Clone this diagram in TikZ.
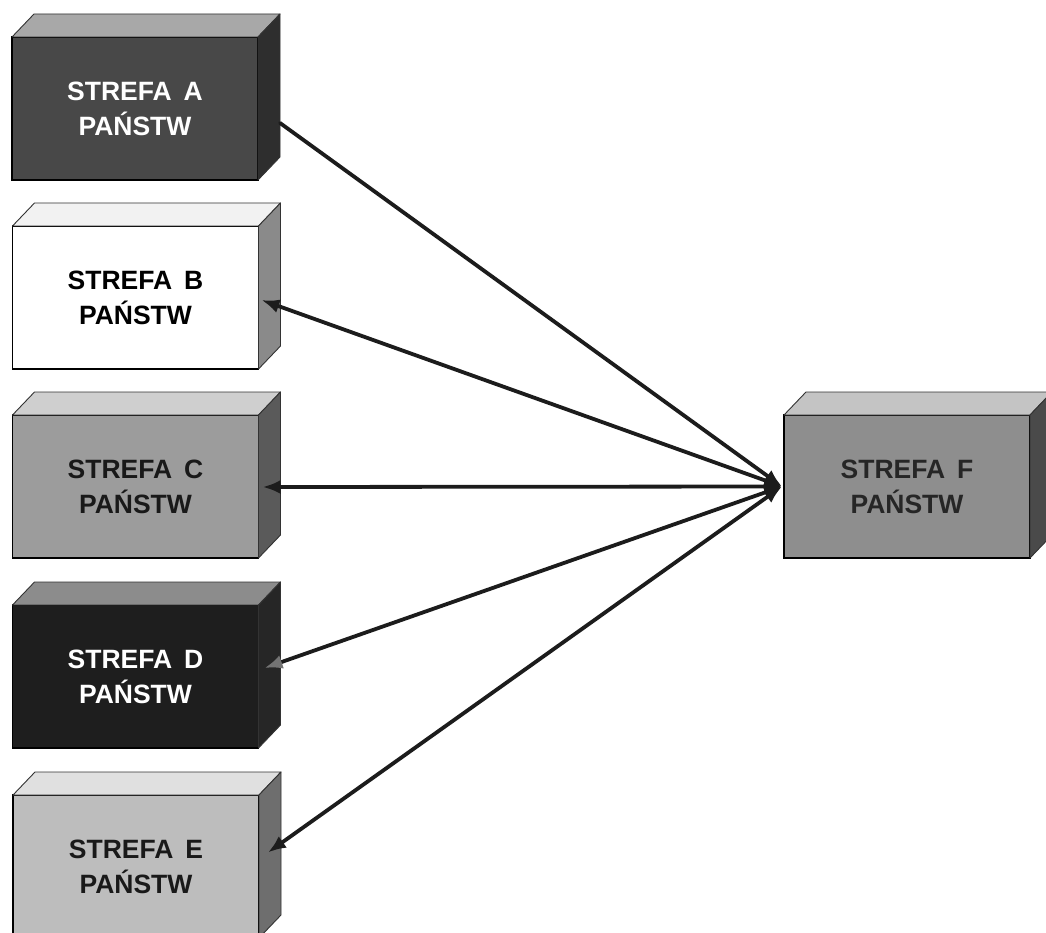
\documentclass[tikz,border=0pt]{standalone}
\usepackage{fontspec}
\setmainfont{Liberation Sans}
\usetikzlibrary{arrows.meta,calc}
\definecolor{aFront}{HTML}{484848}\definecolor{aTop}{HTML}{A8A8A8}\definecolor{aSide}{HTML}{2E2E2E}
\definecolor{bFront}{HTML}{FFFFFF}\definecolor{bTop}{HTML}{F2F2F2}\definecolor{bSide}{HTML}{8A8A8A}
\definecolor{cFront}{HTML}{9C9C9C}\definecolor{cTop}{HTML}{CFCFCF}\definecolor{cSide}{HTML}{5A5A5A}
\definecolor{dFront}{HTML}{1E1E1E}\definecolor{dTop}{HTML}{8C8C8C}\definecolor{dSide}{HTML}{262626}
\definecolor{eFront}{HTML}{BDBDBD}\definecolor{eTop}{HTML}{E0E0E0}\definecolor{eSide}{HTML}{6E6E6E}
\definecolor{fFront}{HTML}{8E8E8E}\definecolor{fTop}{HTML}{C4C4C4}\definecolor{fSide}{HTML}{4A4A4A}
\definecolor{lineDark}{HTML}{1C1C1C}
\tikzset{
  zone/.style={rectangle, draw=black, line width=1.4pt, outer sep=0pt, inner sep=0pt,
    minimum width=246pt, minimum height=143pt, align=center,
    font=\fontsize{26.5}{35}\selectfont\bfseries},
  face/.style={draw=black!80, line width=0.9pt, line join=round},
  link/.style={line width=3.8pt, draw=lineDark, line cap=round},
  headtip/.tip={Latex[length=18pt,width=14pt]},
}
\newcommand\zonefaces[3]{%
  \filldraw[face, fill=#2] (#1.north west) -- ++(22,-23) -- ($(#1.north east)+(22,-23)$) -- (#1.north east) -- cycle;
  \filldraw[face, fill=#3] (#1.north east) -- ++(22,-23) -- ($(#1.south east)+(22,-23)$) -- (#1.south east) -- cycle;
}
\newcommand\zonegap{\hspace{0.45em}}
\begin{document}
\begin{tikzpicture}[x=1pt,y=-1pt]
\useasboundingbox (0,0) rectangle (1046,933);
\clip (0,0) rectangle (1046,933);
\fill[white] (0,0) rectangle (1046,933);

\node[zone, fill=aFront, text=white] (A) at (135,108.5) {STREFA\zonegap A\\PAŃSTW};
\zonefaces{A}{aTop}{aSide}
\node[zone, fill=bFront, text=black] (B) at (135.5,297.5) {STREFA\zonegap B\\PAŃSTW};
\zonefaces{B}{bTop}{bSide}
\node[zone, fill=cFront, text=black!90] (C) at (135.5,486.5) {STREFA\zonegap C\\PAŃSTW};
\zonefaces{C}{cTop}{cSide}
\node[zone, fill=dFront, text=white] (D) at (135.5,676.5) {STREFA\zonegap D\\PAŃSTW};
\zonefaces{D}{dTop}{dSide}
\node[zone, fill=eFront, text=black!90] (E) at (136,866.5) {STREFA\zonegap E\\PAŃSTW};
\zonefaces{E}{eTop}{eSide}
\node[zone, fill=fFront, text=black!85] (F) at (907,486.5) {STREFA\zonegap F\\PAŃSTW};
\zonefaces{F}{fTop}{fSide}

\coordinate (Fin) at ($(F.west)+(-2,0)$);
\coordinate (Aout) at ($(A.east)+(22,14.5)$);
\coordinate (Bin) at ($(B.east)+(3,2.5)$);
\coordinate (Cin) at ($(C.east)+(4,0.5)$);
\coordinate (Din) at ($(D.east)+(6,-8.5)$);
\coordinate (Ein) at ($(E.east)+(9,-14)$);

\draw[link, -headtip] (Aout) -- (Fin);
\draw[link, headtip-headtip] (Fin) -- (Bin);
\draw[link, headtip-headtip] (Fin) -- (Cin);
\draw[link, headtip-{Latex[length=18pt,width=14pt,color=black!55]}] (Fin) -- (Din);
\draw[link, headtip-headtip] (Fin) -- (Ein);
\end{tikzpicture}
\end{document}
